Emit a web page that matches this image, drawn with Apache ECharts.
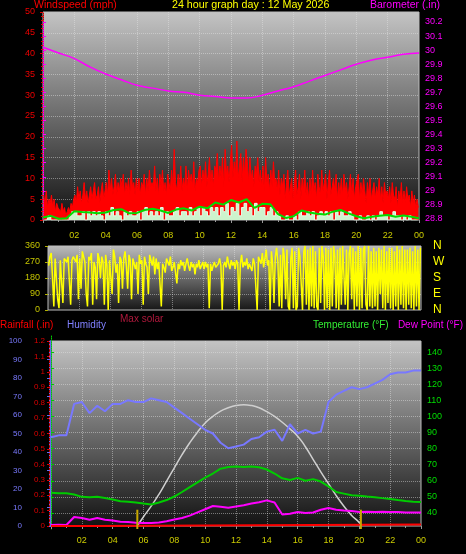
<!DOCTYPE html>
<html><head><meta charset="utf-8">
<script src="https://cdn.jsdelivr.net/npm/echarts@6/dist/echarts.min.js"></script>
<style>html,body{margin:0;padding:0;background:#000;}#c{width:466px;height:554px;}</style>
</head><body><div id="c"></div><script>
// ---------- data ----------
const hourLabels = ['', '02', '04', '06', '08', '10', '12', '14', '16', '18', '20', '22', '00'];
const compassLabels = ['N', 'E', 'S', 'W', 'N'];

// wind gust (mph), 5-minute samples (12 per hour)
const windGust = [
  6,4,7,3,5,4,6,3,5,2,4,3,
  3,2,4,2,3,1,2,3,2,4,3,5,
  6,4,8,5,7,4,6,9,5,7,4,6,
  8,5,7,9,5,6,8,4,7,9,5,7,
  9,6,12,7,10,6,8,11,6,9,7,10,
  8,11,6,9,7,10,6,12,8,9,6,10,
  7,10,6,9,8,11,6,10,7,12,8,9,
  8,13,7,10,6,11,8,12,7,9,6,11,
  9,7,12,8,17,9,7,11,8,13,7,10,
  8,13,7,12,9,11,8,14,7,10,9,12,
  13,8,12,9,14,8,11,15,9,12,8,13,
  12,16,9,13,10,15,8,17,11,13,9,14,
  18,10,14,11,19,10,13,16,9,15,11,17,
  14,9,15,10,12,8,13,11,15,9,12,8,
  13,7,15,9,11,7,12,8,14,9,10,7,
  12,6,10,8,11,5,9,12,6,8,10,5,
  9,12,6,8,11,5,10,7,12,6,9,5,
  10,6,12,7,9,5,11,8,6,12,7,9,
  11,5,9,12,6,8,10,7,11,5,9,6,
  10,6,11,7,9,5,8,11,6,10,5,8,
  8,11,5,9,6,10,7,4,9,6,10,5,
  7,9,5,8,6,10,5,8,4,9,6,7,
  5,8,4,9,6,5,8,3,7,5,9,4,
  7,4,8,5,6,3,7,4,6,3,5,3
];
// wind speed (mph), 10-minute samples
const windSpeed = [
  0,0,1,0,0,0, 0,0,0,0,1,2, 2,1,1,2,0,2, 1,2,1,2,1,0,
  2,1,3,1,2,1, 0,2,1,2,1,1, 2,0,2,3,1,2, 1,2,1,3,0,2,
  1,1,2,3,1,2, 2,1,3,1,2,3, 1,3,2,1,3,2, 3,1,3,2,4,1,
  3,2,4,1,3,4, 2,3,1,4,2,3, 3,1,2,3,1,2, 1,0,0,1,0,0,
  1,0,2,1,1,2, 1,2,0,1,2,1, 2,1,2,0,2,1, 2,1,1,2,1,0,
  0,1,0,0,1,0, 1,0,1,2,1,1, 0,1,2,1,1,0, 1,0,1,0,0,0
];
// average wind speed (mph), 30-minute samples from 00:00
const windAvg = [
  0.6,1.0,0.3,0.4,2.1,1.9,1.8,1.6,1.8,2.4,2.6,1.6,1.7,2.4,2.7,2.3,
  1.7,2.5,2.8,2.3,3.2,2.8,4.2,3.7,4.8,4.2,5.0,2.9,3.9,3.8,1.4,0.5,
  0.9,2.3,1.8,1.5,1.3,2.0,2.4,1.6,0.9,0.4,0.8,1.0,1.2,0.8,1.1,0.8,0.4
];
// barometer (in), hourly from 00:00
const baro = [
  30.02,29.98,29.94,29.88,29.83,29.79,29.75,29.73,29.71,29.70,29.68,29.67,
  29.66,29.66,29.68,29.71,29.74,29.78,29.82,29.86,29.90,29.93,29.95,29.97,29.98
];
// wind direction (deg), 5-minute samples (12 per hour)
const windDir = [
  250,300,320,180,20,290,300,60,10,280,270,40,
  290,280,270,300,310,30,280,300,290,270,310,60,
  290,120,330,300,270,90,20,300,280,320,30,270,
  240,60,320,290,180,300,270,30,310,250,0,280,
  270,90,340,300,210,260,40,300,280,120,290,330,
  250,120,310,280,60,290,300,230,270,90,310,260,
  280,30,300,260,240,90,310,280,250,300,200,290,
  230,270,260,20,260,240,210,290,270,250,300,220,
  240,270,260,150,260,230,280,250,270,220,260,290,
  250,220,270,240,260,200,260,240,280,230,250,270,
  230,270,240,260,10,260,220,250,270,240,230,260,
  290,250,0,250,270,240,300,260,230,280,250,270,
  230,280,260,0,260,310,240,270,250,290,230,260,
  270,220,290,260,250,0,300,280,260,320,240,290,
  340,250,280,0,330,260,40,300,350,270,20,310,
  10,350,300,60,340,20,0,290,350,10,330,0,
  20,350,300,150,0,330,360,30,340,0,350,20,
  360,10,330,20,0,350,40,360,300,0,350,10,
  340,0,350,20,360,300,10,340,0,350,30,360,
  350,30,340,0,320,360,60,350,0,330,20,360,
  0,350,10,340,360,30,0,360,20,330,10,350,
  20,330,0,350,90,340,10,360,0,330,40,350,
  10,350,0,330,20,360,0,340,30,360,10,340,
  0,340,30,350,10,330,0,360,20,340,0,350
];
// humidity (%), temperature (F), dew point (F): 30-minute samples from 00:00
const humidity = [
  48,49,49,66,67,61,65,62,66,66,68,67,67,69,68,67,64,61,58,55,52,50,45,42,
  43,44,47,48,51,52,46,55,50,52,50,51,67,71,73,75,74,75,77,79,82,83,83,84,84
];
const temperature = [
  52.5,52.3,52.2,51.5,50.0,49.8,50.0,49.3,48.3,47.2,47.0,46.5,45.8,45.2,46.5,48.0,
  50.2,53.0,56.0,59.0,62.0,64.5,67.5,68.5,68.8,68.5,68.8,68.4,67.0,64.5,61.5,60.5,
  61.8,60.0,61.0,59.5,56.5,53.0,52.0,51.0,50.7,50.2,49.8,49.2,48.7,48.0,47.4,46.9,46.8
];
const dewPoint = [
  32.5,32.6,32.5,37.5,36.8,35.8,36.8,35.8,35.3,34.5,34.4,33.9,33.8,33.7,34.0,34.8,
  35.9,36.8,38.3,40.3,42.3,44.3,43.8,43.2,44.0,44.8,45.8,46.6,47.8,46.5,39.0,39.5,
  40.6,40.0,40.3,42.0,43.0,42.0,41.5,41.2,40.6,40.8,40.6,40.7,40.6,40.5,40.3,40.2,40.3
];
// rainfall (in)
const rainHours = [0, 2.7, 2.7, 24];
const rainValues = [0, 0, 0.01, 0.01];
// max solar
const solarHours = [5.6,6,6.5,7,7.5,8,8.5,9,9.5,10,10.5,11,11.5,12,12.5,13,13.5,14,14.5,15,15.5,16,16.5,17,17.5,18,18.5,19,19.5,20,20.1];
const solarValues = [0,70,150,240,340,440,540,630,710,780,830,870,895,912,918,912,895,865,830,785,735,680,600,505,410,320,230,150,80,25,0];
// sunrise / sunset (hours)
const sunrise = 5.6, sunset = 20.1;

// ---------- chart ----------
const FONT = '"Liberation Sans", Arial, sans-serif';
const chart = echarts.init(document.getElementById('c'));
const toPts = (vals, step, start) => vals.map((v, i) => [start + i * step, v]);
const zip = (xs, ys) => xs.map((x, i) => [x, ys[i]]);
const grad = (a, b) => new echarts.graphic.LinearGradient(0, 0, 0, 1, [{offset: 0, color: a}, {offset: 1, color: b}]);
const gridLine = {color: 'rgba(230,230,230,0.45)', type: 'dotted', width: 1};

function xAx(gi, opts) {
  const showLab = !!opts.labels;
  return {
    type: 'value', gridIndex: gi, min: 0, max: 24, interval: 2, show: opts.show !== false,
    axisLine: {show: false},
    axisTick: {show: showLab, length: 3, lineStyle: {color: '#999'}},
    minorTick: {show: showLab, splitNumber: 2, length: 2, lineStyle: {color: '#999'}},
    axisLabel: {show: showLab, margin: opts.margin || 8, color: '#cccc00', fontSize: 9, fontFamily: FONT,
      formatter: v => hourLabels[Math.round(v / 2)]},
    splitLine: {show: !!opts.split, showMinLine: false, showMaxLine: false, lineStyle: gridLine}
  };
}

const txt = (text, pos, color, size) => Object.assign({type: 'text', style: {text, fill: color, font: (size || 10) + 'px ' + FONT}}, pos);

const option = {
  backgroundColor: '#000',
  animation: false,
  graphic: [
    txt('Windspeed (mph)', {left: 34, top: 0}, '#ff0000', 10.5),
    txt('24 hour graph day : 12 May 2026', {left: 172, top: 0}, '#ffff00', 10.7),
    txt('Barometer (.in)', {right: 26, top: 0}, '#ff00ff', 10.5),
    txt('Rainfall (.in)', {left: 0, top: 320}, '#ff0000'),
    txt('Humidity', {left: 67, top: 320}, '#8080ff'),
    txt('Max solar', {left: 120, top: 314}, '#b0183c'),
    txt('Temperature (°F)', {left: 313, top: 320}, '#33ee33'),
    txt('Dew Point (°F)', {right: 3, top: 320}, '#ff00ff')
  ],
  grid: [
    {left: 43, right: 47, top: 12, height: 208, show: true, backgroundColor: grad('#c4c4c4', '#121212'), borderColor: '#bdbdbd', borderWidth: 1},
    {left: 43, right: 47, top: 22, height: 197, show: false},
    {left: 48, right: 45, top: 246, height: 64, show: true, backgroundColor: grad('#bcbcbc', '#161616'), borderColor: '#bdbdbd', borderWidth: 1},
    {left: 51, right: 45, top: 341, height: 185, show: true, backgroundColor: grad('#c4c4c4', '#121212'), borderColor: '#bdbdbd', borderWidth: 1},
    {left: 51, right: 45, top: 336, height: 193, show: false}
  ],
  xAxis: [
    xAx(0, {labels: true, split: true, margin: 11}),
    xAx(1, {show: false}),
    xAx(2, {split: true}),
    xAx(3, {labels: true, split: true, margin: 10}),
    xAx(4, {show: false})
  ],
  yAxis: [
    {type: 'value', gridIndex: 0, min: 0, max: 50, interval: 5, position: 'left',
      axisLine: {show: true, lineStyle: {color: '#cc0000', type: 'dotted'}},
      axisTick: {show: true, length: 3, lineStyle: {color: '#dd0000'}},
      minorTick: {show: true, splitNumber: 5, length: 2, lineStyle: {color: '#dd0000'}},
      axisLabel: {color: '#ee0000', fontSize: 9, margin: 8, fontFamily: FONT},
      splitLine: {show: true, showMinLine: false, showMaxLine: false, lineStyle: gridLine}},
    {type: 'value', gridIndex: 1, min: 28.8, max: 30.2, interval: 0.1, position: 'right',
      axisLine: {show: true, lineStyle: {color: '#ff00ff', type: 'dotted'}},
      axisTick: {show: true, length: 3, lineStyle: {color: '#ff00ff'}},
      axisLabel: {color: '#ff00ff', fontSize: 9, margin: 6, fontFamily: FONT},
      splitLine: {show: false}},
    {type: 'value', gridIndex: 2, min: 0, max: 360, interval: 90, position: 'left',
      axisLine: {show: false},
      axisTick: {show: true, length: 3, lineStyle: {color: '#b0b000'}},
      axisLabel: {color: '#c4c400', fontSize: 9, margin: 8, fontFamily: FONT},
      splitLine: {show: true, showMinLine: false, showMaxLine: false, lineStyle: gridLine}},
    {type: 'value', gridIndex: 2, min: 0, max: 360, interval: 90, position: 'right',
      axisLine: {show: false}, axisTick: {show: false},
      axisLabel: {color: '#ffff00', fontSize: 12, margin: 12, fontFamily: FONT, formatter: v => compassLabels[Math.round(v / 90)]},
      splitLine: {show: false}},
    {type: 'value', gridIndex: 3, min: 0, max: 100, interval: 10, position: 'left', offset: 21,
      axisLine: {show: true, lineStyle: {color: '#6a6af0', width: 2}},
      axisTick: {show: true, length: 4, lineStyle: {color: '#6a6af0'}},
      minorTick: {show: true, splitNumber: 5, length: 2, lineStyle: {color: '#6a6af0'}},
      axisLabel: {color: '#7a7aff', fontSize: 8, margin: 8, fontFamily: FONT},
      splitLine: {show: false}},
    {type: 'value', gridIndex: 3, min: 0, max: 1.2, interval: 0.1, position: 'left', offset: 2,
      axisLine: {show: true, lineStyle: {color: '#dd0000', type: 'dotted'}},
      axisTick: {show: true, length: 2, lineStyle: {color: '#dd0000'}},
      axisLabel: {color: '#dd0000', fontSize: 8, margin: 4, fontFamily: FONT},
      splitLine: {show: false}},
    {type: 'value', gridIndex: 3, min: 0, max: 1400, show: false},
    {type: 'value', gridIndex: 4, min: 30, max: 150, interval: 10, position: 'right',
      axisLine: {show: true, lineStyle: {color: '#00cc00', type: 'dotted'}},
      axisTick: {show: true, length: 3, lineStyle: {color: '#00cc00'}},
      axisLabel: {color: '#00dd00', fontSize: 9, margin: 6, fontFamily: FONT, showMinLabel: false, showMaxLabel: false},
      splitLine: {show: true, showMinLine: false, showMaxLine: false, lineStyle: gridLine}}
  ],
  series: [
    {type: 'line', xAxisIndex: 0, yAxisIndex: 0, data: toPts(windGust, 1 / 12, 1 / 24), showSymbol: false,
      lineStyle: {color: '#ff0000', width: 1}, areaStyle: {color: '#ff0000', opacity: 1}},
    {type: 'line', xAxisIndex: 0, yAxisIndex: 0, data: toPts(windSpeed, 1 / 6, 1 / 12), showSymbol: false, step: 'middle',
      lineStyle: {color: '#e6ffe6', width: 1}, areaStyle: {color: '#cdf3cd', opacity: 1}},
    {type: 'line', xAxisIndex: 0, yAxisIndex: 0, data: toPts(windAvg, 0.5, 0), showSymbol: false,
      lineStyle: {color: '#00dd00', width: 2}},
    {type: 'line', xAxisIndex: 1, yAxisIndex: 1, data: toPts(baro, 1, 0), showSymbol: false, smooth: true,
      lineStyle: {color: '#ff00ff', width: 1.5}},
    {type: 'line', xAxisIndex: 2, yAxisIndex: 2, data: toPts(windDir, 1 / 12, 1 / 24), showSymbol: false,
      lineStyle: {color: '#ffff00', width: 1.5}},
    {type: 'line', xAxisIndex: 3, yAxisIndex: 6, data: zip(solarHours, solarValues), showSymbol: false, smooth: true,
      lineStyle: {color: '#cfcfcf', width: 1.5}},
    {type: 'line', xAxisIndex: 3, yAxisIndex: 4, data: toPts(humidity, 0.5, 0), showSymbol: false,
      lineStyle: {color: '#7878ff', width: 2}},
    {type: 'line', xAxisIndex: 4, yAxisIndex: 7, data: toPts(temperature, 0.5, 0), showSymbol: false,
      lineStyle: {color: '#00cc00', width: 2}},
    {type: 'line', xAxisIndex: 4, yAxisIndex: 7, data: toPts(dewPoint, 0.5, 0), showSymbol: false,
      lineStyle: {color: '#ff00ff', width: 2}},
    {type: 'line', xAxisIndex: 3, yAxisIndex: 5, data: zip(rainHours, rainValues), showSymbol: false, clip: false,
      lineStyle: {color: '#ff0000', width: 2}},
    {type: 'line', xAxisIndex: 4, yAxisIndex: 7, data: [[sunrise, 30], [sunrise, 42]], showSymbol: false,
      lineStyle: {color: '#c8a800', width: 2}},
    {type: 'line', xAxisIndex: 4, yAxisIndex: 7, data: [[sunset, 30], [sunset, 42]], showSymbol: false,
      lineStyle: {color: '#c8a800', width: 2}}
  ]
};
chart.setOption(option);
</script></body></html>
